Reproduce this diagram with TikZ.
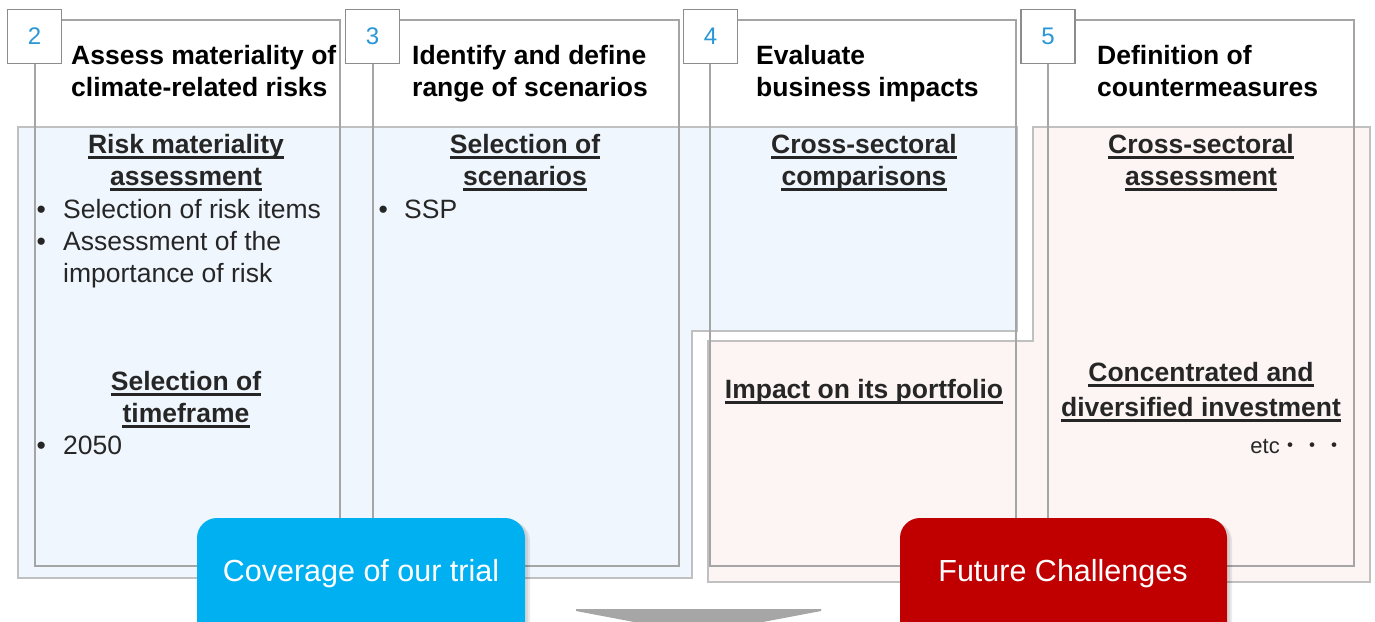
\documentclass[tikz,border=0pt]{standalone}
\usepackage{fontspec}
\setmainfont{Liberation Sans}
\newfontfamily\cjkfont{Noto Sans CJK JP}
\definecolor{txt}{RGB}{38,38,38}
\definecolor{linegray}{RGB}{165,165,165}
\definecolor{regiongray}{RGB}{192,192,192}
\definecolor{boxgray}{RGB}{140,140,140}
\definecolor{numblue}{RGB}{40,150,215}
\definecolor{bluefill}{RGB}{239,246,253}
\definecolor{pinkfill}{RGB}{253,245,244}
\definecolor{btncyan}{RGB}{0,176,240}
\definecolor{btnred}{RGB}{192,0,0}
\definecolor{arrowgray}{RGB}{166,166,166}
\newcommand\ulnode[1]{\draw[ulline] ([yshift=-4.5pt]#1.base west) -- ([yshift=-4.5pt]#1.base east);}
\begin{document}
\begin{tikzpicture}[x=1pt,y=-1pt,
  hdr/.style={inner sep=0pt, anchor=base west, font=\fontsize{26.5}{32}\selectfont\bfseries, text=black},
  subhd/.style={inner sep=0pt, anchor=base, font=\fontsize{26.5}{32}\selectfont\bfseries, text=txt},
  body/.style={inner sep=0pt, anchor=base west, font=\fontsize{26.5}{32}\selectfont, text=txt},
  numbox/.style={draw=boxgray, line width=1.5pt, fill=white, minimum size=54pt, inner sep=0pt, font=\fontsize{24}{24}\selectfont, text=numblue},
  colline/.style={draw=linegray, line width=1.6pt},
  region/.style={draw=regiongray, line width=2pt},
  ulline/.style={draw=txt, line width=2.2pt},
  btntext/.style={inner sep=0pt, anchor=base, font=\fontsize{30.5}{32}\selectfont, text=white}
]
\useasboundingbox (0,0) rectangle (1375,621);

% regions
\path[region, fill=bluefill] (18,127) -- (1017,127) -- (1017,331) -- (692,331) -- (692,578) -- (18,578) -- cycle;
\path[region, fill=pinkfill] (1033,127) -- (1370,127) -- (1370,582) -- (708,582) -- (708,341) -- (1033,341) -- cycle;

% column outlines
\draw[colline] (61,20) -- (340,20) -- (340,566) -- (35,566) -- (35,64);
\draw[colline] (399,20) -- (679,20) -- (679,566) -- (373,566) -- (373,64);
\draw[colline] (737,20) -- (1016,20) -- (1016,566) -- (710,566) -- (710,64);
\draw[colline] (1075,20) -- (1354,20) -- (1354,566) -- (1048,566) -- (1048,64);

% number boxes
\node[numbox] (n2) at (34.5,36.5) {2};
\node[numbox] (n3) at (372.5,36.5) {3};
\node[numbox] (n4) at (710.5,36.5) {4};
\node[numbox] (n5) at (1048,36.5) {5};

% headers
\node[hdr] (h2a) at (71,64) {Assess materiality of};
\node[hdr] (h2b) at (71,96.5) {climate-related risks};
\node[hdr] (h3a) at (412,64) {Identify and define};
\node[hdr] (h3b) at (412,96.5) {range of scenarios};
\node[hdr] (h4a) at (756,64) {Evaluate};
\node[hdr] (h4b) at (756,96.5) {business impacts};
\node[hdr] (h5a) at (1097,64) {Definition of};
\node[hdr] (h5b) at (1097,96.5) {countermeasures};

% column 2 content
\node[subhd] (s2a) at (186,153) {Risk materiality};
\node[subhd] (s2b) at (186,185) {assessment};
\ulnode{s2a}\ulnode{s2b}
\node[body] (b2a) at (36.5,218) {•};
\node[body] (t2a) at (63,218) {Selection of risk items};
\node[body] (b2b) at (36.5,250) {•};
\node[body] (t2b) at (63,250) {Assessment of the};
\node[body] (t2c) at (63,282) {importance of risk};
\node[subhd] (s2c) at (186,390) {Selection of};
\node[subhd] (s2d) at (186,422) {timeframe};
\ulnode{s2c}\ulnode{s2d}
\node[body] (b2c) at (36.5,454) {•};
\node[body] (t2d) at (63,454) {2050};

% column 3 content
\node[subhd] (s3a) at (525,153) {Selection of};
\node[subhd] (s3b) at (525,185) {scenarios};
\ulnode{s3a}\ulnode{s3b}
\node[body] (b3a) at (378.5,218) {•};
\node[body] (t3a) at (404,218) {SSP};

% column 4 content
\node[subhd] (s4a) at (864,153) {Cross-sectoral};
\node[subhd] (s4b) at (864,185) {comparisons};
\ulnode{s4a}\ulnode{s4b}
\node[subhd] (s4c) at (864,398) {Impact on its portfolio};
\ulnode{s4c}

% column 5 content
\node[subhd] (s5a) at (1201,153) {Cross-sectoral};
\node[subhd] (s5b) at (1201,185) {assessment};
\ulnode{s5a}\ulnode{s5b}
\node[subhd] (s5c) at (1201,381) {Concentrated and};
\node[subhd] (s5d) at (1201,416) {diversified investment};
\ulnode{s5c}\ulnode{s5d}
\node[inner sep=0pt, anchor=base east, font=\fontsize{22}{24}\selectfont, text=txt] (etc) at (1346,453) {etc{\cjkfont ・・・}};

% buttons with shadow
\fill[black, opacity=0.08, rounded corners=20pt] (199,521) rectangle (530,660);
\fill[black, opacity=0.08, rounded corners=20pt] (198,520) rectangle (528,660);
\fill[btncyan, rounded corners=20pt] (197,518) rectangle (525,660);
\node[btntext] (cov) at (361,581) {Coverage of our trial};

\fill[black, opacity=0.08, rounded corners=20pt] (902,521) rectangle (1232,660);
\fill[black, opacity=0.08, rounded corners=20pt] (901,520) rectangle (1230,660);
\fill[btnred, rounded corners=20pt] (900,518) rectangle (1227,660);
\node[btntext] (fut) at (1063,581) {Future Challenges};

% bottom arrow
\fill[arrowgray] (576,609) -- (821,609) -- (821,611) -- (763,622) -- (634,622) -- (576,611) -- cycle;
\end{tikzpicture}
\end{document}
